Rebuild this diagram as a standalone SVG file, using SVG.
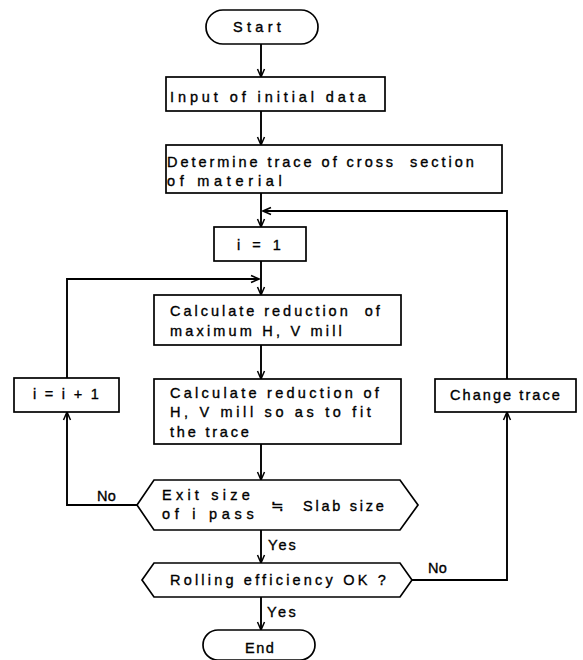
<svg xmlns="http://www.w3.org/2000/svg" width="583" height="660" viewBox="0 0 583 660">
<style>
.n{fill:#fff;stroke:#000;stroke-width:1.7}
.c{fill:none;stroke:#000;stroke-width:1.9}
text{font-family:"Liberation Sans",Arial,sans-serif;font-size:14.5px;fill:#000;stroke:#000;stroke-width:0.35;letter-spacing:1.2px}
</style>
<defs>
<marker id="ah" markerWidth="10" markerHeight="10" refX="9" refY="5" orient="auto" markerUnits="userSpaceOnUse">
<path d="M1,1.5 L9,5 L1,8.5" fill="none" stroke="#000" stroke-width="1.5"/>
</marker>
</defs>
<rect width="583" height="660" fill="#fff"/>
<g id="connectors">
<path class="c" d="M261,44 V77" marker-end="url(#ah)"/>
<path class="c" d="M261,111 V145" marker-end="url(#ah)"/>
<path class="c" d="M261,193 V227" marker-end="url(#ah)"/>
<path class="c" d="M261,261 V295" marker-end="url(#ah)"/>
<path class="c" d="M261,345 V379" marker-end="url(#ah)"/>
<path class="c" d="M261,444 V480" marker-end="url(#ah)"/>
<path class="c" d="M261,530 V563" marker-end="url(#ah)"/>
<path class="c" d="M261,597 V630" marker-end="url(#ah)"/>
<path class="c" d="M137,505 H67 V412" marker-end="url(#ah)"/>
<path class="c" d="M67,378 V279 H259" marker-end="url(#ah)"/>
<path class="c" d="M412,580 H507 V412" marker-end="url(#ah)"/>
<path class="c" d="M507,379 V211 H263" marker-end="url(#ah)"/>
<text x="97" y="501" textLength="20">No</text>
<text x="428" y="573" textLength="20">No</text>
<text x="268" y="550" textLength="29">Yes</text>
<text x="267" y="617" textLength="30">Yes</text>
</g>
<g id="start">
<rect class="n" x="206" y="10" width="112" height="34" rx="17"/>
<text x="233" y="32" textLength="49">Start</text>
</g>
<g id="input">
<rect class="n" x="166" y="77" width="219" height="34"/>
<text x="170" y="102" textLength="197">Input of initial data</text>
</g>
<g id="determine">
<rect class="n" x="166" y="145" width="336" height="48"/>
<text x="167" y="167" textLength="308" xml:space="preserve">Determine trace of cross  section</text>
<text x="167" y="186" textLength="116">of material</text>
</g>
<g id="init">
<rect class="n" x="214" y="227" width="92" height="34"/>
<text x="237" y="250" textLength="45">i = 1</text>
</g>
<g id="calcmax">
<rect class="n" x="154" y="295" width="247" height="50"/>
<text x="170" y="316" textLength="211" xml:space="preserve">Calculate reduction  of</text>
<text x="170" y="336" textLength="173">maximum H, V mill</text>
</g>
<g id="calcfit">
<rect class="n" x="154" y="379" width="247" height="65"/>
<text x="170" y="398" textLength="210">Calculate reduction of</text>
<text x="170" y="417" textLength="202">H, V mill so as to fit</text>
<text x="170" y="437" textLength="80">the trace</text>
</g>
<g id="increment">
<rect class="n" x="14" y="378" width="105" height="34"/>
<text x="33" y="399" textLength="67">i = i + 1</text>
</g>
<g id="change">
<rect class="n" x="435" y="379" width="141" height="33"/>
<text x="450" y="400" textLength="111">Change trace</text>
</g>
<g id="exit">
<polygon class="n" points="154,480 400,480 418,505 400,530 154,530 137,505"/>
<text x="162" y="500" textLength="89">Exit size</text>
<text x="162" y="519" textLength="93">of i pass</text>
<text x="271" y="511" textLength="14">≒</text>
<text x="303" y="511" textLength="82">Slab size</text>
</g>
<g id="rolling">
<polygon class="n" points="154,563 400,563 412,580 400,597 154,597 142,580"/>
<text x="170" y="585" textLength="217">Rolling efficiency OK ?</text>
</g>
<g id="end">
<rect class="n" x="203" y="630" width="112" height="30" rx="15"/>
<text x="245" y="653" textLength="30">End</text>
</g>
</svg>
